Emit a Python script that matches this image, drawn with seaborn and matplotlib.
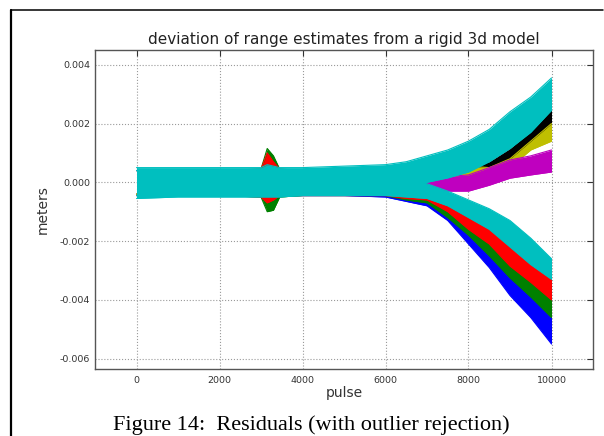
import matplotlib
matplotlib.use("Agg")
import matplotlib.pyplot as plt
from matplotlib.lines import Line2D
import seaborn as sns

# ---------------- data (envelopes, metres) ----------------
pulse = [0, 1000, 2000, 3000, 3150, 3300, 3450, 4000, 5000, 6000,
         6500, 7000, 7500, 8000, 8500, 9000, 9500, 10000]

blue_low = [-0.00045, -0.00045, -0.00045, -0.00045, -0.00050, -0.00050, -0.00045, -0.00045, -0.00045,
            -0.00050, -0.00065, -0.00080, -0.00130, -0.00210, -0.00290, -0.00385, -0.00460, -0.00550]
blue_high = [0.00040, 0.00040, 0.00040, 0.00040, 0.00040, 0.00040, 0.00040, 0.00040, 0.00040,
             0.00030, -0.00040, -0.00050, -0.00100, -0.00160, -0.00230, -0.00315, -0.00380, -0.00440]

green_low = [-0.00045, -0.00045, -0.00045, -0.00050, -0.00100, -0.00095, -0.00050, -0.00045, -0.00045,
             -0.00045, -0.00060, -0.00070, -0.00120, -0.00180, -0.00250, -0.00325, -0.00390, -0.00460]
green_high = [0.00040, 0.00040, 0.00040, 0.00045, 0.00115, 0.00090, 0.00045, 0.00040, 0.00040,
              0.00030, -0.00030, -0.00040, -0.00080, -0.00130, -0.00190, -0.00260, -0.00320, -0.00380]

red_low = [-0.00045, -0.00045, -0.00045, -0.00050, -0.00070, -0.00060, -0.00045, -0.00045, -0.00045,
           -0.00045, -0.00055, -0.00060, -0.00100, -0.00160, -0.00210, -0.00285, -0.00340, -0.00400]
red_high = [0.00040, 0.00040, 0.00040, 0.00045, 0.00100, 0.00070, 0.00045, 0.00040, 0.00040,
            0.00030, -0.00020, -0.00030, -0.00060, -0.00110, -0.00150, -0.00210, -0.00260, -0.00310]

black_low = [-0.00040, -0.00040, -0.00040, -0.00040, -0.00040, -0.00040, -0.00040, -0.00040, -0.00040,
             -0.00040, -0.00030, -0.00020, 0.00000, 0.00020, 0.00040, 0.00080, 0.00130, 0.00190]
black_high = [0.00040, 0.00040, 0.00040, 0.00040, 0.00040, 0.00040, 0.00040, 0.00040, 0.00040,
              0.00040, 0.00045, 0.00050, 0.00055, 0.00060, 0.00070, 0.00115, 0.00175, 0.00255]

yellow_low = [-0.00040, -0.00040, -0.00040, -0.00040, -0.00040, -0.00040, -0.00040, -0.00040, -0.00040,
              -0.00040, -0.00030, -0.00020, -0.00005, 0.00010, 0.00020, 0.00050, 0.00110, 0.00140]
yellow_high = [0.00040, 0.00040, 0.00040, 0.00040, 0.00040, 0.00040, 0.00040, 0.00040, 0.00040,
               0.00040, 0.00045, 0.00050, 0.00050, 0.00055, 0.00050, 0.00080, 0.00140, 0.00200]

magenta_low = [-0.00045, -0.00045, -0.00045, -0.00045, -0.00045, -0.00045, -0.00045, -0.00045, -0.00045,
               -0.00045, -0.00040, -0.00035, -0.00030, -0.00030, -0.00010, 0.00014, 0.00025, 0.00035]
magenta_high = [0.00040, 0.00040, 0.00040, 0.00040, 0.00040, 0.00040, 0.00040, 0.00040, 0.00040,
                0.00040, 0.00035, 0.00025, 0.00020, 0.00025, 0.00050, 0.00076, 0.00090, 0.00110]

cyan_lo_low = [-0.00045, -0.00045, -0.00045, -0.00045, -0.00045, -0.00045, -0.00045, -0.00045, -0.00045,
               -0.00045, -0.00050, -0.00055, -0.00080, -0.00120, -0.00160, -0.00220, -0.00280, -0.00330]
cyan_lo_high = [0.00040, 0.00040, 0.00040, 0.00040, 0.00040, 0.00040, 0.00040, 0.00040, 0.00040,
                0.00030, 0.00010, -0.00005, -0.00030, -0.00060, -0.00090, -0.00130, -0.00190, -0.00260]

cyan_up_low = [-0.00055, -0.00050, -0.00050, -0.00050, -0.00050, -0.00050, -0.00050, -0.00045, -0.00045,
               -0.00040, -0.00025, 0.00000, 0.00015, 0.00035, 0.00070, 0.00115, 0.00170, 0.00245]
cyan_up_high = [0.00050, 0.00050, 0.00050, 0.00050, 0.00060, 0.00055, 0.00050, 0.00050, 0.00055,
                0.00060, 0.00070, 0.00090, 0.00110, 0.00140, 0.00180, 0.00240, 0.00290, 0.00355]

series = [
    ("#0000ff", blue_low, blue_high),
    ("#008000", green_low, green_high),
    ("#ff0000", red_low, red_high),
    ("#000000", black_low, black_high),
    ("#bfbf00", yellow_low, yellow_high),
    ("#bf00bf", magenta_low, magenta_high),
    ("#00bfbf", cyan_lo_low, cyan_lo_high),
    ("#00bfbf", cyan_up_low, cyan_up_high),
]

x_ticks = [0, 2000, 4000, 6000, 8000, 10000]
y_ticks = [-0.006, -0.004, -0.002, 0.000, 0.002, 0.004]

# ---------------- drawing ----------------
sns.set_style("white")
plt.rcParams["font.family"] = ["DejaVu Sans"]

fig = plt.figure(figsize=(6.04, 4.36), dpi=100)
ax = fig.add_axes([95 / 604, 1 - 369 / 436, (593 - 95) / 604, (369 - 50) / 436])

for i, (col, lo, hi) in enumerate(series):
    ax.fill_between(pulse, lo, hi, color=col, lw=0, zorder=2 + i)
    sns.lineplot(x=pulse, y=lo, color=col, lw=0.8, ax=ax, zorder=2 + i)
    sns.lineplot(x=pulse, y=hi, color=col, lw=0.8, ax=ax, zorder=2 + i)

ax.set_xlim(-1000, 11000)
ax.set_ylim(-0.00635, 0.0045)
ax.set_xticks(x_ticks)
ax.set_xticklabels([str(v) for v in x_ticks])
ax.set_yticks(y_ticks)
ax.set_yticklabels(["%.3f" % v if v != 0 else "0.000" for v in y_ticks])
ax.grid(True, linestyle=":", color="#9a9a9a", lw=0.8, zorder=0)
ax.set_axisbelow(True)
for s in ax.spines.values():
    s.set_color("#555555")
    s.set_linewidth(1.0)
ax.tick_params(direction="in", length=4, width=0.8, labelsize=6.8,
               colors="#333333", top=True, right=True)
ax.tick_params(axis="x", pad=5)

ax.set_title("deviation of range estimates from a rigid 3d model",
             fontsize=11, color="#222222", pad=4)
ax.set_xlabel("pulse", fontsize=10, color="#333333", labelpad=1)
ax.set_ylabel("meters", fontsize=10, color="#333333", labelpad=7)

fig.text(0.515, 6 / 436, "Figure 14:  Residuals (with outlier rejection)",
         ha="center", va="baseline", fontsize=16, family="Liberation Serif",
         color="black")

# page border
fig.add_artist(Line2D([11 / 604, 11 / 604], [0, 1 - 10 / 436], transform=fig.transFigure,
                      color="black", lw=1.6))
fig.add_artist(Line2D([11 / 604, 603 / 604], [1 - 10 / 436, 1 - 10 / 436], transform=fig.transFigure,
                      color="black", lw=1.1))

fig.savefig("out.png", dpi=100)
